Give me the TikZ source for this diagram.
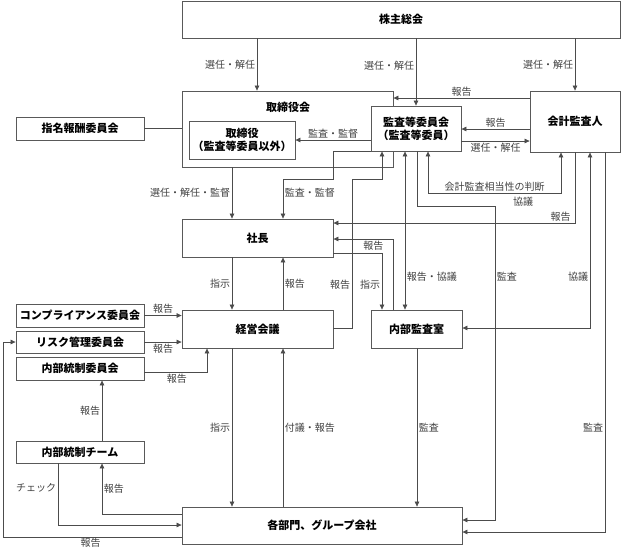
\documentclass[tikz,border=0pt]{standalone}
\usepackage{fontspec}
\setmainfont{Noto Sans CJK JP}
\usetikzlibrary{arrows.meta}
\begin{document}
\begin{tikzpicture}[x=1pt,y=-1pt,
  box/.style={draw=black!65, line width=0.8pt, fill=white, font=\bfseries\fontsize{11}{13}\selectfont, inner sep=0pt, align=center},
  ln/.style={draw=black!70, line width=0.7pt},
  arr/.style={ln, -{Triangle[length=5pt,width=4.5pt]}},
  darr/.style={ln, {Triangle[length=5pt,width=4.5pt]}-{Triangle[length=5pt,width=4.5pt]}},
  lab/.style={font=\fontsize{10}{12}\selectfont, text=black!75, inner sep=1.5pt}]
\useasboundingbox (0,0) rectangle (621,550);
% boxes
\node[box, minimum width=438pt, minimum height=37pt] (sh) at (401,19.5) {株主総会};
\node[box, minimum width=211pt, minimum height=76pt] (tb) at (287.5,129) {};
\node[font=\bfseries\fontsize{11}{13}\selectfont, inner sep=0pt] (tbt) at (288,107) {取締役会};
\node[box, minimum width=106pt, minimum height=38pt] (tr) at (242,140) {取締役\\（監査等委員以外）};
\node[box, minimum width=128pt, minimum height=23pt] (nr) at (80,128.5) {指名報酬委員会};
\node[box, minimum width=90pt, minimum height=45pt] (ac) at (416,128.5) {監査等委員会\\（監査等委員）};
\node[box, minimum width=90pt, minimum height=61pt] (ea) at (575,121.5) {会計監査人};
\node[box, minimum width=151pt, minimum height=38pt] (pr) at (257.5,238) {社長};
\node[box, minimum width=151pt, minimum height=38pt] (mm) at (257.5,329) {経営会議};
\node[box, minimum width=91pt, minimum height=38pt] (ia) at (416.5,329) {内部監査室};
\node[box, minimum width=128pt, minimum height=23pt] (cc) at (80,315.5) {コンプライアンス委員会};
\node[box, minimum width=128pt, minimum height=22pt] (rm) at (80,342) {リスク管理委員会};
\node[box, minimum width=128pt, minimum height=23pt] (ic) at (80,368.5) {内部統制委員会};
\node[box, minimum width=128pt, minimum height=22pt] (it) at (80,452) {内部統制チーム};
\node[box, minimum width=280pt, minimum height=37pt] (dp) at (322,525.5) {各部門、グループ会社};
% connectors from shareholders
\draw[arr] (257,0|-sh.south) -- (257,0|-tb.north) node[lab,left,midway]{選任・解任};
\draw[arr] (416,0|-sh.south) -- (416,0|-ac.north) node[lab,left,pos=0.4]{選任・解任};
\draw[arr] (575,0|-sh.south) -- (575,0|-ea.north) node[lab,left,midway]{選任・解任};
% auditor / committee
\draw[arr] (ea.west|-0,98) -- (tb.east|-0,98) node[lab,above,midway]{報告};
\draw[arr] (ea.west|-0,129) -- (ac.east|-0,129) node[lab,above,midway]{報告};
\draw[arr] (ac.east|-0,141) -- (ea.west|-0,141) node[lab,below,midway]{選任・解任};
\draw[arr] (ac.west|-0,140) -- (tr.east|-0,140) node[lab,above,midway]{監査・監督};
\draw[ln] (nr.east) -- (tb.west|-nr.east);
\draw[arr] (232,0|-tb.south) -- (232,0|-pr.north) node[lab,left,midway]{選任・解任・監督};
\draw[arr] (ac.south west) -- (333,0|-ac.south west) -- (333,179) -- (283,179) -- (283,0|-pr.north) node[lab,right,pos=0.35]{監査・監督};
\draw[arr] (mm.east|-0,328) -- (352,328) -- (352,179) node[lab,left,pos=0.29]{報告} -- (382,179) -- (382,0|-ac.south);
\draw[darr] (405,0|-ac.south) -- (405,0|-ia.north) node[lab,right,pos=0.79]{報告・協議};
\draw[darr] (428,0|-ac.south) -- (428,193) -- (561,193) node[lab,above,midway]{会計監査相当性の判断} -- (561,0|-ea.south);
\node[lab] (kyogi) at (523,202) {協議};
\draw[arr] (417,0|-ac.south) -- (417,206) -- (495,206) -- (495,520) node[lab,right,pos=0.226]{監査} -- (dp.east|-0,520);
\draw[arr] (575,0|-ea.south) -- (575,223) -- (pr.east|-0,223) node[lab,above,pos=0.06]{報告};
\draw[darr] (590,0|-ea.south) -- (590,328) node[lab,left,pos=0.71]{協議} -- (ia.east|-0,328);
\draw[arr] (605,0|-ea.south) -- (605,532) node[lab,left,pos=0.726]{監査} -- (dp.east|-0,532);
% president / internal audit
\draw[arr] (393,0|-ia.north) -- (393,239) -- (pr.east|-0,239) node[lab,below,pos=0.33]{報告};
\draw[arr] (pr.east|-0,253) -- (382,253) -- (382,0|-ia.north) node[lab,left,pos=0.56]{指示};
\draw[arr] (232,0|-pr.south) -- (232,0|-mm.north) node[lab,left,midway]{指示};
\draw[arr] (283,0|-mm.north) -- (283,0|-pr.south) node[lab,right,midway]{報告};
% committees
\draw[arr] (cc.east) -- (mm.west|-cc.east) node[lab,above,midway]{報告};
\draw[arr] (rm.east) -- (mm.west|-rm.east) node[lab,below,midway]{報告};
\draw[arr] (ic.east|-0,372) -- (207,372) node[lab,below,pos=0.52]{報告} -- (207,0|-mm.south);
\draw[arr] (102,0|-it.north) -- (102,0|-ic.south) node[lab,left,midway]{報告};
\draw[arr] (dp.west|-0,514) -- (102,514) -- (102,0|-it.south) node[lab,right,pos=0.5]{報告};
\draw[arr] (58,0|-it.south) -- (58,525) node[lab,left,pos=0.4]{チェック} -- (dp.west|-0,525);
\draw[arr] (dp.west|-0,537) -- (3,537) node[lab,below,pos=0.51,inner sep=0.5pt]{報告} -- (3,0|-rm.west) -- (rm.west);
% management / departments
\draw[arr] (232,0|-mm.south) -- (232,0|-dp.north) node[lab,left,midway]{指示};
\draw[arr] (283,0|-dp.north) -- (283,0|-mm.south) node[lab,right,midway]{付議・報告};
\draw[arr] (417,0|-ia.south) -- (417,0|-dp.north) node[lab,right,midway]{監査};
\end{tikzpicture}
\end{document}
